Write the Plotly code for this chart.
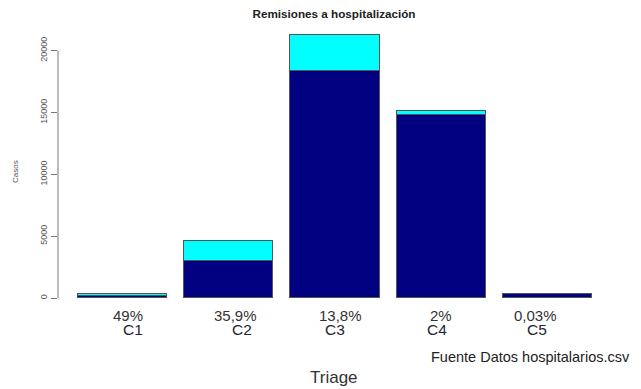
import plotly.graph_objects as go

categories = ["C1", "C2", "C3", "C4", "C5"]
no_remitidos = [178, 2974, 18330, 14830, 350]
remitidos = [172, 1666, 2935, 300, 0.1]
porcentajes = ["49%", "35,9%", "13,8%", "2%", "0,03%"]
y_ticks = [0, 5000, 10000, 15000, 20000]

FONT = "Liberation Sans, Arial, sans-serif"
OFF = 8  # page body margin
W, H = 641 - OFF, 389 - OFF
pct_xshift = [5, 7, 5, 0, -12]
cat_xshift = [10, 13, 0, -4, -11]

fig = go.Figure()
fig.add_trace(go.Bar(x=categories, y=no_remitidos, name="No remitidos",
                     marker=dict(color="#000080", line=dict(color="#555555", width=1)),
                     width=0.838))
fig.add_trace(go.Bar(x=categories, y=remitidos, name="Remitidos",
                     marker=dict(color="#00FFFF", line=dict(color="#555555", width=1)),
                     width=0.838))

annotations = []
for i, c in enumerate(categories):
    annotations.append(dict(x=c, y=0, xref="x", yref="y", text=porcentajes[i],
                            showarrow=False, yshift=-17, xshift=pct_xshift[i],
                            font=dict(family=FONT, size=15, color="#333333"),
                            yanchor="middle"))
    annotations.append(dict(x=c, y=0, xref="x", yref="y", text=c,
                            showarrow=False, yshift=-31, xshift=cat_xshift[i],
                            font=dict(family=FONT, size=15.5, color="#1f2533"),
                            yanchor="middle"))

annotations.append(dict(xref="paper", yref="paper", x=1.021, y=(298 - 357) / 268, xanchor="right",
                        yanchor="middle", text="Fuente Datos hospitalarios.csv",
                        showarrow=False, font=dict(family=FONT, size=14.5, color="#222222")))
annotations.append(dict(xref="paper", yref="paper", x=(334 - 58) / 562, y=(298 - 377) / 268,
                        xanchor="center", yanchor="middle", text="Triage",
                        showarrow=False, font=dict(family=FONT, size=17, color="#333333")))
annotations.append(dict(xref="paper", yref="paper", x=0, xshift=-43, y=0.5, yshift=-8,
                        xanchor="center", yanchor="middle", text="Casos", textangle=-90,
                        showarrow=False, font=dict(family=FONT, size=8, color="#555555")))

fig.update_layout(
    barmode="stack",
    width=W, height=H,
    margin=dict(l=58 - OFF, r=21, t=30 - OFF, b=91, pad=0),
    paper_bgcolor="white", plot_bgcolor="white",
    showlegend=False,
    bargap=0,
    title=dict(text="<b>Remisiones a hospitalización</b>", x=(334 - OFF) / W, xref="container",
               xanchor="center", y=1 - (14 - OFF) / H, yref="container", yanchor="middle",
               font=dict(family=FONT, size=11.7, color="#222222")),
    xaxis=dict(range=[-0.607, 4.682], showticklabels=False, showline=False,
               showgrid=False, zeroline=False, ticks=""),
    yaxis=dict(range=[0, 21670], tickvals=y_ticks, ticktext=[str(v) for v in y_ticks],
               tickangle=-90, ticks="outside", ticklen=6, tickcolor="#777777",
               showline=False, showgrid=False, zeroline=False,
               tickfont=dict(family=FONT, size=9, color="#555555")),
    annotations=annotations,
    shapes=[dict(type="line", xref="paper", yref="y", x0=0, x1=0, y0=y_ticks[0],
                 y1=y_ticks[-1], line=dict(color="#777777", width=1))],
)

fig.write_html("out.html")
